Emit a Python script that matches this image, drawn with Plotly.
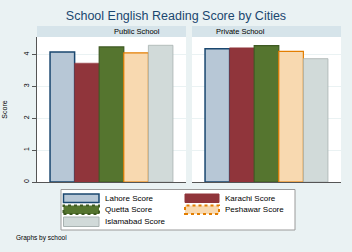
import plotly.graph_objects as go
from plotly.subplots import make_subplots

schools = ["Public School", "Private School"]
cities = ["Lahore Score", "Karachi Score", "Quetta Score", "Peshawar Score", "Islamabad Score"]
public_vals = [4.08, 3.73, 4.24, 4.05, 4.29]
private_vals = [4.18, 4.21, 4.28, 4.10, 3.87]
y_ticks = [0, 1, 2, 3, 4]

fills = ["#B7C7D6", "#90353B", "#55752F", "#F8D9B0", "#D1DAD9"]
lines = ["#1A476F", "#90353B", "#3E5A22", "#E37E00", "#A8B2B1"]
lws = [1.5, 0.5, 1.2, 1.2, 0.8]
dashes = ["solid", "solid", "dot", "dot", "solid"]

fig = make_subplots(rows=1, cols=2, horizontal_spacing=0.04)
for i, c in enumerate(cities):
    for col, vals in ((1, public_vals), (2, private_vals)):
        fig.add_trace(go.Bar(
            x=[schools[col - 1]], y=[vals[i]], name=c,
            marker=dict(color=fills[i], line=dict(color=lines[i], width=lws[i])),
            showlegend=False,
        ), row=1, col=col)

L, R, T, B = 37, 11, 37, 70
W, H = 352, 252
pw = W - L - R
ph = H - T - B
d1 = [0, 149 / pw]
d2 = [155 / pw, 1]


def px(x):
    return (x - L) / pw


def py(y):
    return (T + ph - y) / ph


fig.update_layout(
    width=W, height=H,
    margin=dict(l=L, r=R, t=T, b=B, autoexpand=False),
    paper_bgcolor="#EAF2F3", plot_bgcolor="white",
    barmode="group", bargap=0.175, bargroupgap=0,
    font=dict(family="Liberation Sans, Arial, sans-serif", size=8, color="#000000"),
    title=dict(text="School English Reading Score by Cities", x=0.5, xanchor="center",
               y=1 - 16 / H, yanchor="middle",
               font=dict(size=12.5, color="#1A476F")),
    showlegend=False,
)
fig.update_xaxes(showticklabels=False, ticks="", showgrid=False, showline=True,
                 linecolor="#555555", linewidth=1)
fig.layout.xaxis.domain = d1
fig.layout.xaxis2.domain = d2
for ax in ("yaxis", "yaxis2"):
    fig.layout[ax].update(range=[0, 4.55], tickvals=y_ticks, showgrid=True,
                          gridcolor="#EAF2F3", gridwidth=1, zeroline=False)
fig.layout.yaxis.update(showticklabels=True, ticks="outside", ticklen=4, tickcolor="#555555",
                        tickangle=-90, tickfont=dict(size=7), showline=True,
                        linecolor="#555555", linewidth=1,
                        title=dict(text="Score", font=dict(size=7), standoff=14))
fig.layout.yaxis2.update(showticklabels=False, ticks="", showline=False, matches="y")

for d, s in ((d1, schools[0]), (d2, schools[1])):
    fig.add_shape(type="rect", xref="paper", yref="paper", x0=d[0], x1=d[1],
                  y0=py(37), y1=py(26), fillcolor="#D6E4EA", line=dict(width=0), layer="below")
    fig.add_annotation(text=s, xref="paper", yref="paper", x=(d[0] + d[1]) / 2,
                       y=py(31.5), showarrow=False, font=dict(size=7.5), yanchor="middle")

# legend box
fig.add_shape(type="rect", xref="paper", yref="paper", x0=px(61), x1=px(295),
              y0=py(189.5), y1=py(230), fillcolor="white", line=dict(color="#9A9A9A", width=1))
cols_x = [(63.5, 99, 104), (185, 219, 224)]
rows_y = [(194, 202.5), (205.5, 214), (217, 226.5)]
for i, c in enumerate(cities):
    r, k = divmod(i, 2)
    x0, x1, tx = cols_x[k]
    y0, y1 = rows_y[r]
    fig.add_shape(type="rect", xref="paper", yref="paper", x0=px(x0), x1=px(x1),
                  y0=py(y1), y1=py(y0), fillcolor=fills[i],
                  line=dict(color=lines[i], width=max(lws[i], 1) if dashes[i] == "solid" else 2,
                            dash=dashes[i]))
    fig.add_annotation(text=c, xref="paper", yref="paper", x=px(tx), xanchor="left",
                       y=py((y0 + y1) / 2), yanchor="middle", showarrow=False,
                       font=dict(size=8), xshift=-1)

fig.add_annotation(text="Graphs by school", xref="paper", yref="paper",
                   x=px(15), xanchor="left", y=py(238), yanchor="middle",
                   showarrow=False, font=dict(size=6.5), xshift=-1)

fig.write_html("out.html")
